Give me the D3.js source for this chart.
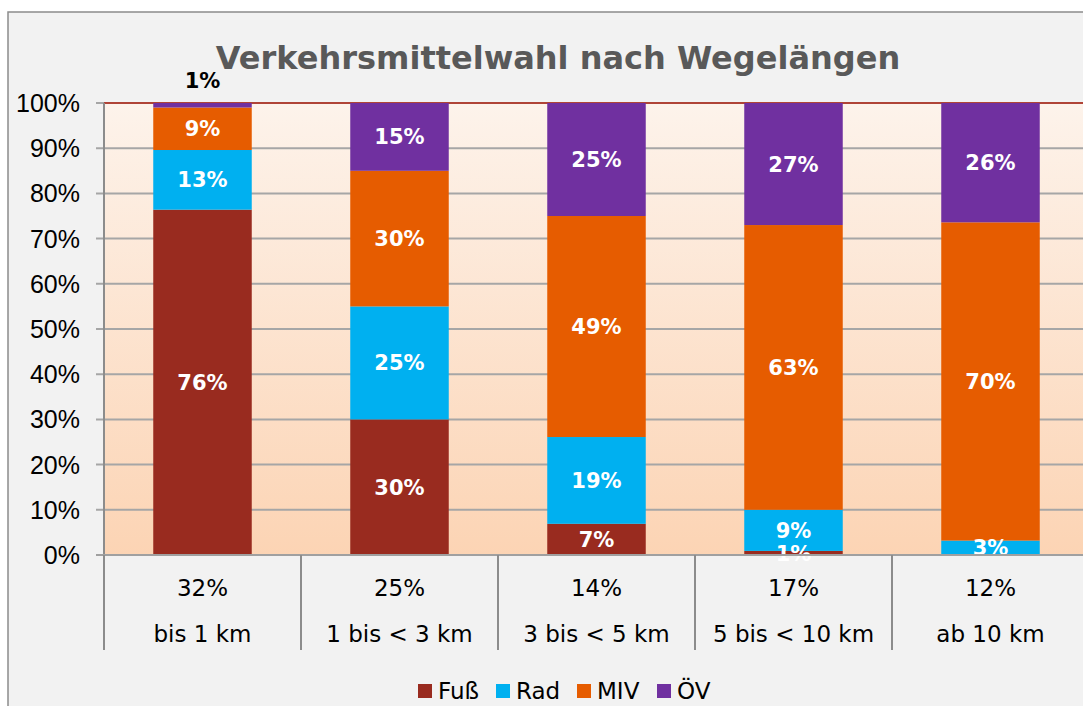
<!DOCTYPE html>
<html>
<head>
<meta charset="utf-8">
<script src="https://cdn.jsdelivr.net/npm/d3@7"></script>
<style>
  body { margin: 0; background: #fff; }
  svg { display: block; }
</style>
</head>
<body>
<div id="chart"></div>
<script>
// Wegelängen-Klassen und Anteil an allen Wegen
const categories = ["bis 1 km", "1 bis < 3 km", "3 bis < 5 km", "5 bis < 10 km", "ab 10 km"];
const wegeAnteil = [0.32, 0.25, 0.14, 0.17, 0.12];

// Modal split je Klasse (in %)
const fuss = [76.4, 30.0, 6.9, 0.9, 0.0];
const rad  = [13.2, 25.0, 19.2, 9.1, 3.2];
const miv  = [9.4, 30.0, 48.9, 63.0, 70.4];
const oev  = [1.0, 15.0, 25.0, 27.0, 26.4];

const seriesNames = ["Fuß", "Rad", "MIV", "ÖV"];
const yTicks = [0, 0.1, 0.2, 0.3, 0.4, 0.5, 0.6, 0.7, 0.8, 0.9, 1.0];

const W = 1083, H = 706;
const plot = {left: 104, right: 1089, top: 103, bottom: 555};

let color = d3.scaleOrdinal()
  .domain(seriesNames)
  .range(["#992b1f", "#00b0f0", "#e65c00", "#7030a0"]);

let rows = categories.map((c, i) => ({cat: c, "Fuß": fuss[i], "Rad": rad[i], "MIV": miv[i], "ÖV": oev[i]}));
let stacked = d3.stack().keys(seriesNames).offset(d3.stackOffsetExpand)(rows);

let x = d3.scaleBand().domain(categories)
  .range([plot.left, plot.right]).paddingInner(0.5).paddingOuter(0.25);
let y = d3.scaleLinear().domain([0, 1]).range([plot.bottom, plot.top]);

let svg = d3.select("#chart").append("svg").attr("width", W).attr("height", H);

let defs = svg.append("defs");
let grad = defs.append("linearGradient").attr("id", "bg").attr("x1", 0).attr("y1", 0).attr("x2", 0).attr("y2", 1);
grad.append("stop").attr("offset", "0%").attr("stop-color", "#fdf3eb");
grad.append("stop").attr("offset", "100%").attr("stop-color", "#fcd4b4");

// chart area
svg.append("rect").attr("x", 8).attr("y", 12).attr("width", W).attr("height", H)
  .attr("fill", "#f2f2f2").attr("stroke", "#8c8c8c").attr("stroke-width", 1.5);

// plot area
svg.append("rect").attr("x", plot.left).attr("y", plot.top)
  .attr("width", plot.right - plot.left).attr("height", plot.bottom - plot.top)
  .attr("fill", "url(#bg)");

// gridlines
svg.append("g").selectAll("line").data(yTicks.filter(t => t > 0 && t < 1)).enter().append("line")
  .attr("x1", plot.left - 8).attr("x2", plot.right)
  .attr("y1", d => y(d)).attr("y2", d => y(d))
  .attr("stroke", "#a6a6a6").attr("stroke-width", 2);

svg.append("line").attr("x1", plot.left - 8).attr("x2", plot.left)
  .attr("y1", y(1)).attr("y2", y(1)).attr("stroke", "#a6a6a6").attr("stroke-width", 2);
svg.append("line").attr("x1", plot.left).attr("x2", plot.right)
  .attr("y1", y(1)).attr("y2", y(1)).attr("stroke", "#b04437").attr("stroke-width", 2);

// bars
let layer = svg.selectAll(".layer").data(stacked).enter().append("g")
  .attr("class", "layer").attr("fill", d => color(d.key));

layer.selectAll("rect").data(d => d).enter().append("rect")
  .attr("x", d => x(d.data.cat))
  .attr("width", x.bandwidth())
  .attr("y", d => y(d[1]))
  .attr("height", d => y(d[0]) - y(d[1]));

// value labels
let fmt = d3.format(".0f");
stacked.forEach(s => {
  s.forEach((d, i) => {
    let v = d.data[s.key];
    if (v <= 0) return;
    let above = (s.key === "ÖV" && v < 3);
    svg.append("text")
      .attr("x", x(d.data.cat) + x.bandwidth() / 2)
      .attr("y", above ? y(d[1]) - 23 : (y(d[0]) + y(d[1])) / 2)
      .attr("dy", "0.36em")
      .attr("text-anchor", "middle")
      .attr("font-family", "DejaVu Sans, Verdana, sans-serif")
      .attr("font-weight", "bold")
      .attr("font-size", 21)
      .attr("fill", above ? "#000" : "#fff")
      .text(fmt(v) + "%");
  });
});

// y axis
svg.append("line").attr("x1", plot.left).attr("x2", plot.left)
  .attr("y1", plot.top).attr("y2", plot.bottom).attr("stroke", "#8c8c8c").attr("stroke-width", 2);
svg.append("g").selectAll("text").data(yTicks).enter().append("text")
  .attr("x", 80).attr("y", d => y(d)).attr("dy", "0.36em")
  .attr("text-anchor", "end")
  .attr("font-family", "Liberation Sans, Arial, sans-serif")
  .attr("font-size", 25).attr("fill", "#000")
  .text(d => d3.format(".0%")(d));

// x axis: baseline, separators, two label rows
svg.append("line").attr("x1", plot.left - 8).attr("x2", plot.right)
  .attr("y1", plot.bottom).attr("y2", plot.bottom).attr("stroke", "#a0a0a0").attr("stroke-width", 2);

let bounds = d3.range(categories.length + 1).map(i => x.range()[0] + i * x.step());
svg.append("g").selectAll("line").data(bounds).enter().append("line")
  .attr("x1", d => d).attr("x2", d => d)
  .attr("y1", plot.bottom).attr("y2", 650)
  .attr("stroke", "#8c8c8c").attr("stroke-width", 2);

svg.append("g").selectAll("text").data(categories).enter().append("text")
  .attr("x", d => x(d) + x.bandwidth() / 2).attr("y", 588).attr("dy", "0.36em")
  .attr("text-anchor", "middle")
  .attr("font-family", "DejaVu Sans, Verdana, sans-serif")
  .attr("font-size", 23).attr("fill", "#000")
  .text((d, i) => d3.format(".0%")(wegeAnteil[i]));

svg.append("g").selectAll("text").data(categories).enter().append("text")
  .attr("x", d => x(d) + x.bandwidth() / 2).attr("y", 634).attr("dy", "0.36em")
  .attr("text-anchor", "middle")
  .attr("font-family", "DejaVu Sans, Verdana, sans-serif")
  .attr("font-size", 23).attr("fill", "#000")
  .text(d => d);

// title
svg.append("text")
  .attr("x", 558).attr("y", 57).attr("dy", "0.36em")
  .attr("text-anchor", "middle")
  .attr("font-family", "DejaVu Sans, Verdana, sans-serif")
  .attr("font-weight", "bold").attr("font-size", 32)
  .attr("fill", "#595959")
  .text("Verkehrsmittelwahl nach Wegelängen");

// legend
let legendX = [418, 496, 577, 657];
let legend = svg.selectAll(".legend").data(seriesNames).enter().append("g")
  .attr("class", "legend")
  .attr("transform", (d, i) => "translate(" + legendX[i] + ",691)");
legend.append("rect").attr("x", 0).attr("y", -7).attr("width", 14).attr("height", 14)
  .attr("fill", d => color(d));
legend.append("text").attr("x", 20).attr("y", 0).attr("dy", "0.36em")
  .attr("font-family", "DejaVu Sans, Verdana, sans-serif")
  .attr("font-size", 23).attr("fill", "#000")
  .text(d => d);
</script>
</body>
</html>
